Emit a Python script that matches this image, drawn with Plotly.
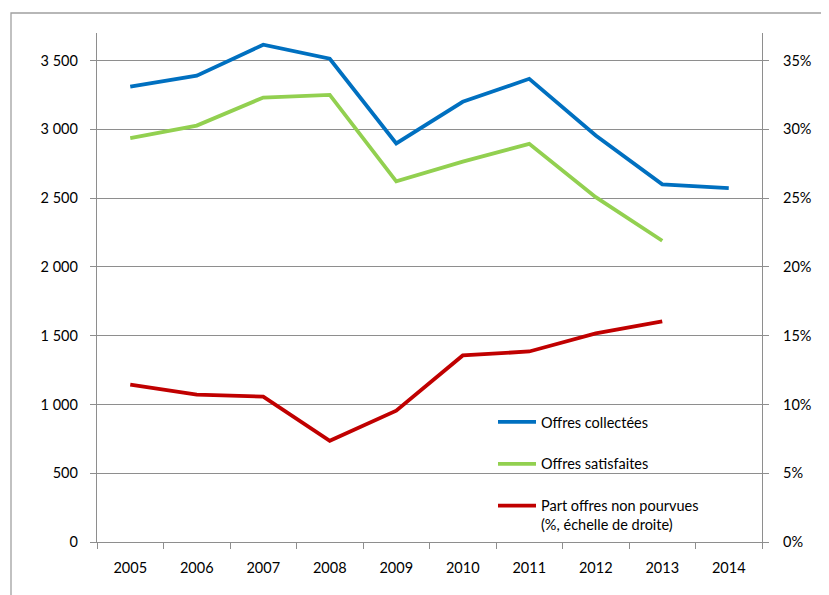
import plotly.graph_objects as go

years = ["2005", "2006", "2007", "2008", "2009", "2010", "2011", "2012", "2013", "2014"]
offres_collectees = [3310, 3390, 3615, 3513, 2897, 3200, 3367, 2955, 2600, 2573]
offres_satisfaites = [2935, 3027, 3231, 3250, 2622, 2765, 2894, 2507, 2190]
part_non_pourvues = [0.1144, 0.1072, 0.1057, 0.0736, 0.0955, 0.1356, 0.1385, 0.1516, 0.1603]

left_ticks = [0, 500, 1000, 1500, 2000, 2500, 3000, 3500]
left_labels = ["0", "500", "1 000", "1 500", "2 000", "2 500", "3 000", "3 500"]
right_ticks = [0, 0.05, 0.10, 0.15, 0.20, 0.25, 0.30, 0.35]
right_labels = ["0%", "5%", "10%", "15%", "20%", "25%", "30%", "35%"]

FONT = "Lato"
GRID = "#8e8e8e"

fig = go.Figure()
fig.add_trace(go.Scatter(x=years, y=offres_collectees, mode="lines", name="Offres collectées",
                         line=dict(color="#0070C0", width=3.8), legendgroup="a"))
fig.add_trace(go.Scatter(x=years[:len(offres_satisfaites)], y=offres_satisfaites, mode="lines",
                         name="Offres satisfaites", line=dict(color="#92D050", width=3.8), legendgroup="b"))
fig.add_trace(go.Scatter(x=years[:len(part_non_pourvues)], y=part_non_pourvues, mode="lines",
                         name="Part offres non pourvues<br>(%, échelle de droite)",
                         line=dict(color="#C00000", width=3.8), yaxis="y2", legendgroup="c"))

# page body has an 8px margin; build the figure so screen positions match
OFF = 8
W, H = 829 - OFF, 595 - OFF
L, R, T, B = 97 - OFF, 67, 33 - OFF, 53
pw, ph = W - L - R, H - T - B

def px(x):
    return (x - OFF - L) / pw

def py(y):
    return (H - B - (y - OFF)) / ph

fig.update_layout(
    width=W, height=H,
    margin=dict(l=L, r=R, t=T, b=B),
    paper_bgcolor="white", plot_bgcolor="white",
    font=dict(family=FONT, size=14.5, color="#000000"),
    showlegend=True,
    legend=dict(x=px(493), y=py(406), xanchor="left", yanchor="top",
                bgcolor="rgba(0,0,0,0)", font=dict(family=FONT, size=14.5, color="#000000"),
                tracegroupgap=20, traceorder="grouped", valign="top", itemwidth=38),
    xaxis=dict(type="category", range=[-0.5, 9.5], showline=True, linecolor=GRID, linewidth=1.3,
               ticks="outside", ticklen=6, tickcolor=GRID, tickson="boundaries",
               showgrid=False, ticklabelstandoff=12, fixedrange=True),
    yaxis=dict(range=[0, 3700], tickvals=left_ticks, ticktext=left_labels,
               showline=True, linecolor=GRID, linewidth=1.3,
               ticks="outside", ticklen=6, tickcolor=GRID,
               showgrid=True, gridcolor=GRID, gridwidth=1.3, zeroline=False,
               ticklabelstandoff=9),
    yaxis2=dict(range=[0, 0.37], tickvals=right_ticks, ticktext=right_labels,
                overlaying="y", side="right", showline=True, linecolor=GRID, linewidth=1.3,
                ticks="outside", ticklen=6, tickcolor=GRID, showgrid=False, zeroline=False,
                ticklabelstandoff=11),
    shapes=[dict(type="rect", xref="paper", yref="paper",
                 x0=px(11), x1=px(829 + 20), y0=py(595 + 20), y1=py(13),
                 line=dict(color="#a0a0a0", width=1.3), fillcolor="rgba(0,0,0,0)", layer="below")],
)

fig.write_html("out.html")
